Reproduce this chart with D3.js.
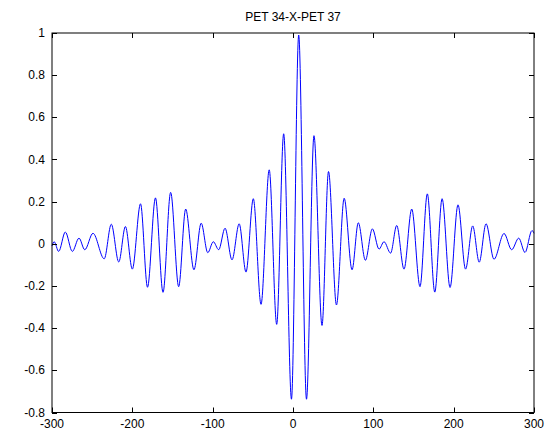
<!DOCTYPE html>
<html>
<head>
<meta charset="utf-8">
<script src="https://cdn.jsdelivr.net/npm/d3@7"></script>
<style>
  html, body { margin: 0; padding: 0; background: #ffffff; }
  svg { display: block; }
  text { font-family: "Liberation Sans", Arial, Helvetica, sans-serif; fill: #000; }
</style>
</head>
<body>
<svg id="chart" width="552" height="431"></svg>
<script>
// ---- data ----
const chartTitle = "PET 34-X-PET 37";
const lags = [
  -300, -297.3, -291.7, -283.4, -274.7, -266.4, -259.2, -249, -235, -226.2,
  -216.9, -208.6, -200, -189.8, -181.1, -171.2, -161.8, -152.3, -142.3, -133.6,
  -123.3, -114.3, -106.1, -99.2, -92.5, -84.6, -75.9, -67, -58.5, -49.4,
  -39.8, -29.6, -20.3, -11.6, -1.9, 7.1, 16.8, 26.1, 36.1, 44.2,
  54.1, 63.7, 73.5, 81.3, 90.1, 98.8, 107.1, 113.3, 121.5, 129.1,
  138.2, 147.8, 158.1, 167.2, 176.5, 185.6, 195.5, 205.4, 214.8, 223.7,
  231.8, 240.3, 250.2, 262.7, 272.2, 281, 288.8, 297.5, 300
];
const corr = [
  -0.01, 0.01, -0.036, 0.056, -0.036, 0.027, -0.028, 0.05, -0.071, 0.093,
  -0.086, 0.082, -0.12, 0.19, -0.206, 0.218, -0.23, 0.244, -0.203, 0.165,
  -0.123, 0.098, -0.042, 0.01, -0.028, 0.074, -0.076, 0.095, -0.134, 0.214,
  -0.287, 0.351, -0.382, 0.522, -0.737, 0.99, -0.737, 0.513, -0.387, 0.343,
  -0.29, 0.216, -0.123, 0.1, -0.078, 0.071, -0.025, 0.01, -0.044, 0.087,
  -0.12, 0.165, -0.203, 0.237, -0.229, 0.214, -0.207, 0.185, -0.12, 0.085,
  -0.087, 0.095, -0.073, 0.049, -0.028, 0.027, -0.041, 0.063, 0.05
];
const xTicks = [-300, -200, -100, 0, 100, 200, 300];
const yTicks = [-0.8, -0.6, -0.4, -0.2, 0, 0.2, 0.4, 0.6, 0.8, 1];
const xDomain = [-300, 300];
const yDomain = [-0.8, 1];

// ---- layout ----
const svg = d3.select("#chart");
const L = 52, R = 534, T = 33, B = 412.5;
const x = d3.scaleLinear().domain(xDomain).range([L, R]);
const y = d3.scaleLinear().domain(yDomain).range([B, T]);
const tickLen = 5;

const data = lags.map((l, i) => ({ l, v: corr[i] }));

// line
const line = d3.line().x(d => x(d.l)).y(d => y(d.v)).curve(d3.curveMonotoneX);
svg.append("path")
  .datum(data)
  .attr("d", line)
  .attr("fill", "none")
  .attr("stroke", "#0000ff")
  .attr("stroke-width", 1);

// axes (MATLAB style: inward ticks, mirrored box)
const fmtY = d => (Math.round(d * 10) / 10).toString();
const g = svg.append("g");

g.append("rect")
  .attr("x", L).attr("y", T).attr("width", R - L).attr("height", B - T)
  .attr("fill", "none").attr("stroke", "#000").attr("stroke-width", 1);

xTicks.forEach(t => {
  const px = Math.round(x(t)) + 0.5;
  g.append("line").attr("x1", px).attr("x2", px).attr("y1", B).attr("y2", B - tickLen).attr("stroke", "#000");
  g.append("line").attr("x1", px).attr("x2", px).attr("y1", T).attr("y2", T + tickLen).attr("stroke", "#000");
  g.append("text").attr("x", x(t)).attr("y", B + 15)
    .attr("text-anchor", "middle").attr("font-size", 12).text(t);
});

yTicks.forEach(t => {
  const py = Math.round(y(t)) + 0.5;
  g.append("line").attr("x1", L).attr("x2", L + tickLen).attr("y1", py).attr("y2", py).attr("stroke", "#000");
  g.append("line").attr("x1", R).attr("x2", R - tickLen).attr("y1", py).attr("y2", py).attr("stroke", "#000");
  g.append("text").attr("x", L - 7).attr("y", y(t) + 4)
    .attr("text-anchor", "end").attr("font-size", 12).text(fmtY(t));
});

svg.append("text")
  .attr("x", (L + R) / 2).attr("y", T - 12)
  .attr("text-anchor", "middle").attr("font-size", 12)
  .text(chartTitle);
</script>
</body>
</html>
